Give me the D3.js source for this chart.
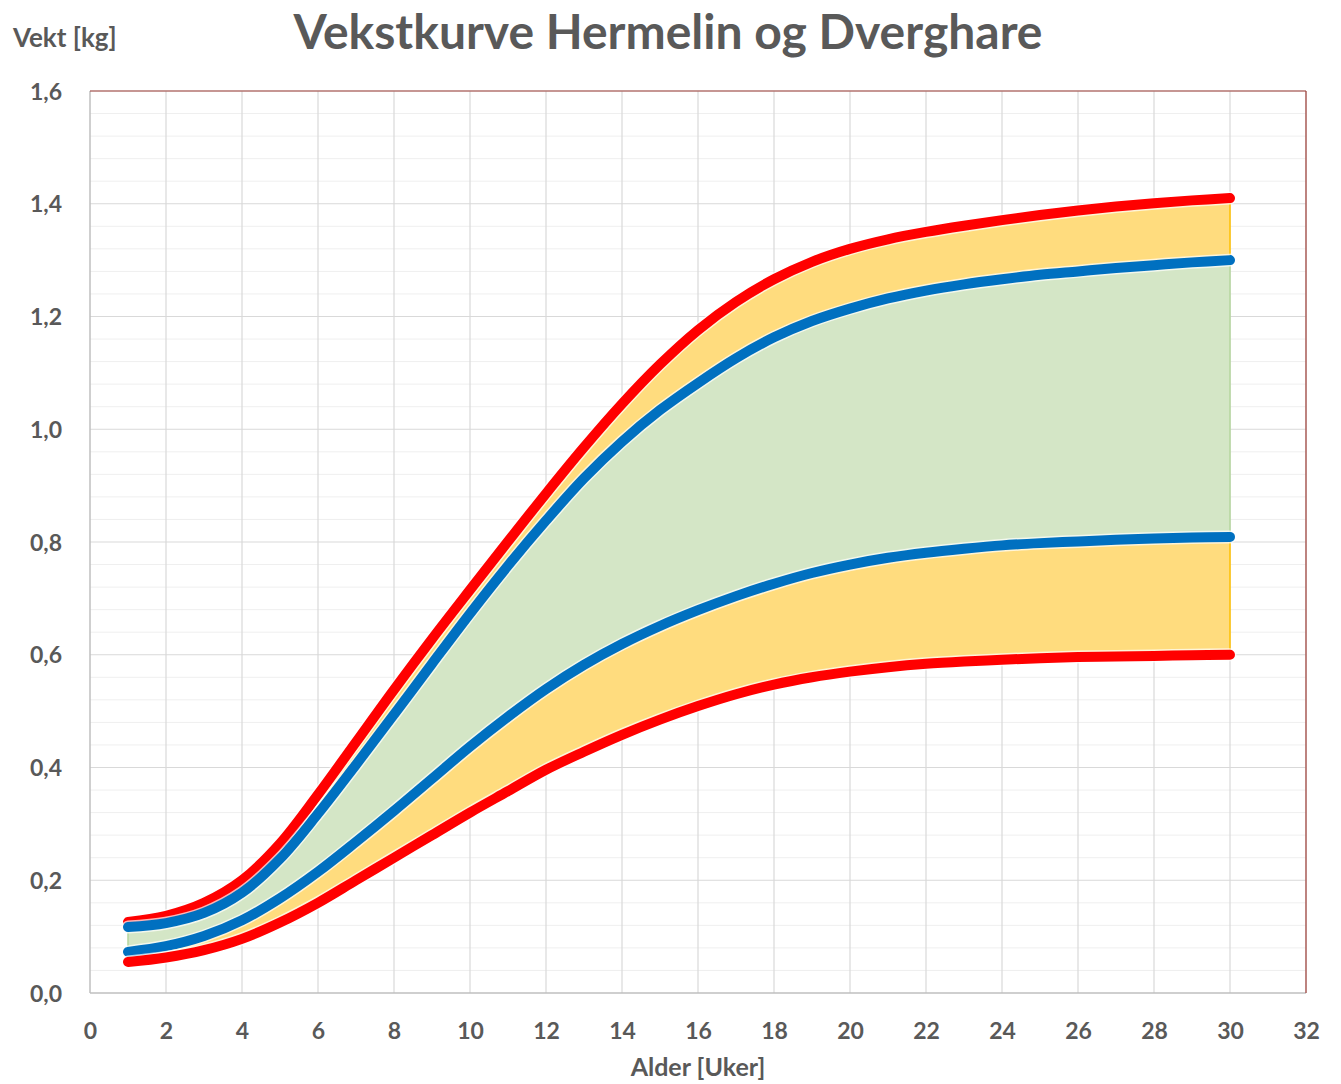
<!DOCTYPE html>
<html>
<head>
<meta charset="utf-8">
<script src="https://cdn.jsdelivr.net/npm/d3@7"></script>
<style>
  html, body { margin: 0; padding: 0; background: #fff; }
  svg text { font-family: Lato, "Open Sans", sans-serif; font-weight: bold; fill: #595959; }
</style>
</head>
<body>
<svg id="chart" width="1341" height="1084"></svg>
<script>
// ---- data ----
const weeks = [1,2,3,4,5,6,7,8,9,10,11,12,13,14,15,16,17,18,19,20,21,22,23,24,25,26,27,28,29,30];
const redUpper = [0.126,0.137,0.160,0.200,0.265,0.352,0.445,0.538,0.628,0.715,0.801,0.886,0.968,1.045,1.115,1.176,1.226,1.266,1.297,1.320,1.337,1.350,1.361,1.371,1.380,1.388,1.395,1.401,1.406,1.410];
const blueUpper = [0.117,0.124,0.142,0.178,0.238,0.318,0.405,0.494,0.584,0.673,0.758,0.838,0.913,0.978,1.034,1.082,1.126,1.163,1.192,1.214,1.232,1.246,1.257,1.266,1.274,1.280,1.286,1.291,1.296,1.300];
const blueLower = [0.073,0.083,0.101,0.129,0.168,0.215,0.268,0.323,0.380,0.437,0.490,0.539,0.582,0.619,0.651,0.679,0.704,0.726,0.745,0.760,0.772,0.781,0.788,0.794,0.798,0.801,0.804,0.806,0.808,0.809];
const redLower = [0.055,0.063,0.076,0.096,0.125,0.160,0.200,0.240,0.280,0.320,0.358,0.396,0.428,0.458,0.485,0.509,0.530,0.547,0.560,0.570,0.578,0.584,0.588,0.591,0.594,0.596,0.597,0.598,0.599,0.600];
const xTicks = [0,2,4,6,8,10,12,14,16,18,20,22,24,26,28,30,32];
const yTicks = [0,0.2,0.4,0.6,0.8,1.0,1.2,1.4,1.6];
const title = "Vekstkurve Hermelin og Dverghare";
const xTitle = "Alder [Uker]";
const yTitle = "Vekt [kg]";

// ---- layout ----
const svg = d3.select("#chart");
const L = 90, R = 1306, T = 91, B = 993;
const x = d3.scaleLinear().domain([0, 32]).range([L, R]);
const y = d3.scaleLinear().domain([0, 1.6]).range([B, T]);

// minor horizontal grid
const minor = d3.range(0, 1.6001, 0.04).filter(v => Math.abs(Math.round(v*5) - v*5) > 1e-6);
svg.append("g").selectAll("line").data(minor).join("line")
  .attr("x1", L).attr("x2", R).attr("y1", d => y(d)).attr("y2", d => y(d))
  .attr("stroke", "#efefef").attr("stroke-width", 1);
// major grid
svg.append("g").selectAll("line").data(yTicks.slice(1)).join("line")
  .attr("x1", L).attr("x2", R).attr("y1", d => y(d)).attr("y2", d => y(d))
  .attr("stroke", "#d9d9d9").attr("stroke-width", 1.2);
svg.append("g").selectAll("line").data(xTicks.slice(1)).join("line")
  .attr("x1", d => x(d)).attr("x2", d => x(d)).attr("y1", T).attr("y2", B)
  .attr("stroke", "#d9d9d9").attr("stroke-width", 1.2);

// areas
const curve = d3.curveCatmullRom.alpha(0.5);
const pts = (a) => weeks.map((w, i) => [w, a[i]]);
const area = (top, bot) => d3.area().x((d, i) => x(weeks[i])).y0((d, i) => y(bot[i])).y1((d, i) => y(top[i])).curve(curve)(weeks);

svg.append("path").attr("d", area(redUpper, blueUpper))
  .attr("fill", "#ffdc7e").attr("stroke", "#ffc000").attr("stroke-width", 1.5);
svg.append("path").attr("d", area(blueLower, redLower))
  .attr("fill", "#ffdc7e").attr("stroke", "#ffc000").attr("stroke-width", 1.5);
svg.append("path").attr("d", area(blueUpper, blueLower))
  .attr("fill", "#d4e6c6").attr("stroke", "#b5d69e").attr("stroke-width", 1.5);

// lines
const line = d3.line().x(d => x(d[0])).y(d => y(d[1])).curve(curve);
[[redUpper, "#ff0000"], [blueUpper, "#0070c0"], [blueLower, "#0070c0"], [redLower, "#ff0000"]].forEach(([arr, c]) => {
  svg.append("path").attr("d", line(pts(arr)))
    .attr("fill", "none").attr("stroke", "#ffffff").attr("stroke-width", 13)
    .attr("stroke-linecap", "round").attr("stroke-linejoin", "round").attr("opacity", 0.7);
  svg.append("path").attr("d", line(pts(arr)))
    .attr("fill", "none").attr("stroke", c).attr("stroke-width", 10)
    .attr("stroke-linecap", "round").attr("stroke-linejoin", "round");
});

// axes lines / border
svg.append("line").attr("x1", L).attr("x2", R).attr("y1", B).attr("y2", B).attr("stroke", "#bfbfbf").attr("stroke-width", 1.5);
svg.append("line").attr("x1", L).attr("x2", L).attr("y1", T).attr("y2", B).attr("stroke", "#bfbfbf").attr("stroke-width", 1.5);
svg.append("line").attr("x1", L).attr("x2", R).attr("y1", T).attr("y2", T).attr("stroke", "#a0403a").attr("stroke-width", 1.2);
svg.append("line").attr("x1", R).attr("x2", R).attr("y1", T).attr("y2", B).attr("stroke", "#a0403a").attr("stroke-width", 1.2);

// tick labels via axes
const fmt = d3.format(".1f");
const yAxis = d3.axisLeft(y).tickValues(yTicks).tickSize(0).tickPadding(28)
  .tickFormat(d => fmt(d).replace(".", ","));
const gy = svg.append("g").attr("transform", `translate(${L},0)`).call(yAxis);
gy.select(".domain").remove();
gy.selectAll("text").style("font-size", "23px").attr("dy", "0.35em");

const xAxis = d3.axisBottom(x).tickValues(xTicks).tickSize(0).tickPadding(28);
const gx = svg.append("g").attr("transform", `translate(0,${B})`).call(xAxis);
gx.select(".domain").remove();
gx.selectAll("text").style("font-size", "23px").attr("dy", "0.35em").attr("y", 38);

// titles
svg.append("text").attr("x", 668).attr("y", 49).attr("text-anchor", "middle")
  .style("font-size", "48px").text(title);
svg.append("text").attr("x", (L + R) / 2).attr("y", 1076).attr("text-anchor", "middle")
  .style("font-size", "25px").text(xTitle);
svg.append("text").attr("x", 13).attr("y", 47).attr("text-anchor", "start")
  .style("font-size", "26px").text(yTitle);
</script>
</body>
</html>
